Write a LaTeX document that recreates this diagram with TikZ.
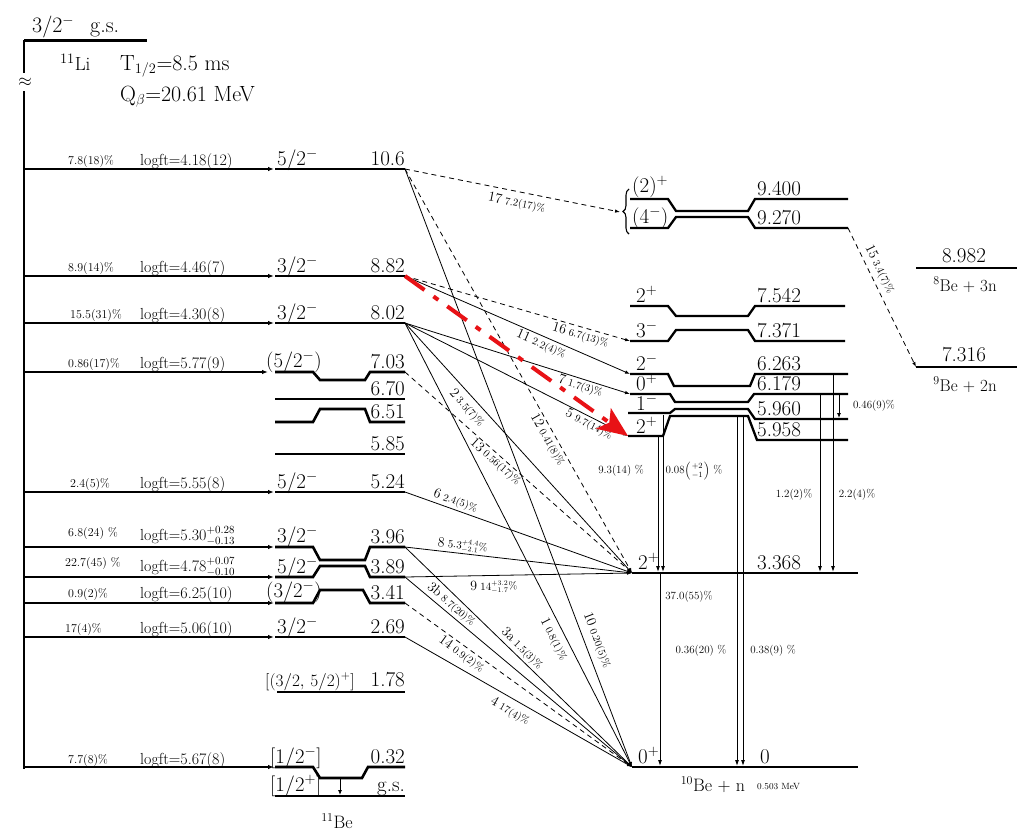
\documentclass[tikz,border=0pt]{standalone}
\usetikzlibrary{arrows.meta,decorations.pathreplacing}
\definecolor{arrred}{RGB}{232,18,22}
\newcommand\trl[2]{{\fontsize{14}{15}\selectfont #1}\ {\fontsize{10.5}{11}\selectfont #2}}
\begin{document}
\begin{tikzpicture}[x=1pt,y=-1pt,
 lev/.style={line width=2.6pt, line join=miter},
 beta/.style={line width=1.2pt, -{Latex[length=6pt,width=4.5pt]}, shorten >=1pt},
 tr/.style={line width=0.8pt, -{Latex[length=5pt,width=3.5pt]}},
 dtr/.style={tr, dash pattern=on 5pt off 4pt},
 gam/.style={line width=0.9pt, -{Latex[length=6pt,width=4pt]}},
 txt/.style={inner sep=0pt, font=\fontsize{21}{22}\selectfont},
 en/.style={txt, anchor=base east},
 sp/.style={txt, anchor=base west},
 lg/.style={inner sep=0pt, anchor=base west, font=\fontsize{16}{17}\selectfont},
 pc/.style={inner sep=0pt, anchor=base west, font=\fontsize{12}{13}\selectfont},
 tl/.style={inner sep=1pt, sloped},
 gl/.style={inner sep=0pt, font=\fontsize{11}{12}\selectfont},
 big/.style={anchor=base west, inner sep=0pt, font=\fontsize{22}{23}\selectfont},
]
\useasboundingbox (0,0) rectangle (1017,831);

% ---------- 11Li ----------
\coordinate (liL) at (24,40); \coordinate (liR) at (147,40);
\draw[lev,line width=3pt] (liL) -- (liR);
\node[big] (ligs) at (32,32) {3/2$^{-}$\hspace{16pt}g.s.};
\coordinate (vA) at (24,73); \coordinate (vB) at (24,91); \coordinate (vE) at (24,769);
\draw[line width=1.3pt] (liL) -- (vA) (vB) -- (vE);
\node[inner sep=0pt, font=\fontsize{18}{18}\selectfont] (apx) at (25,82) {$\approx$};
\node[big, font=\fontsize{19}{20}\selectfont] (li) at (60,70) {$^{11}$Li};
\node[big] (thalf) at (120,70) {T$_{1/2}$=8.5 ms};
\node[big] (qb) at (120,101) {Q$_{\beta}$=20.61 MeV};

% ---------- 11Be levels ----------
\coordinate (b106) at (275,169); \coordinate (r106) at (405,169);
\draw[lev] (b106) -- (r106);
\node[sp] (s106) at (277,165) {5/2$^{-}$}; \node[en] (e106) at (405,165) {10.6};

\coordinate (b882) at (275,276); \coordinate (r882) at (405,276);
\draw[lev] (b882) -- (r882);
\node[sp] (s882) at (277,272) {3/2$^{-}$}; \node[en] (e882) at (405,272) {8.82};

\coordinate (b802) at (275,323); \coordinate (r802) at (405,323);
\draw[lev] (b802) -- (r802);
\node[sp] (s802) at (277,319) {3/2$^{-}$}; \node[en] (e802) at (405,319) {8.02};

\coordinate (b703) at (275,372); \coordinate (r703) at (405,372);
\draw[lev] (b703) -- (313,372) -- (320,380) -- (365,380) -- (370,372) -- (r703);
\node[sp] (s703) at (266,367) {$\bigl(5/2^{-}\bigr)$}; \node[en] (e703) at (405,368) {7.03};

\coordinate (b670) at (275,399); \coordinate (r670) at (405,399);
\draw[lev] (b670) -- (r670);
\node[en] (e670) at (405,395) {6.70};

\coordinate (b651) at (275,422); \coordinate (r651) at (405,422);
\draw[lev] (b651) -- (313,422) -- (320,409) -- (365,409) -- (370,422) -- (r651);
\node[en] (e651) at (405,418) {6.51};

\coordinate (b585) at (275,454); \coordinate (r585) at (405,454);
\draw[lev] (b585) -- (r585);
\node[en] (e585) at (405,450) {5.85};

\coordinate (b524) at (275,492); \coordinate (r524) at (405,492);
\draw[lev] (b524) -- (r524);
\node[sp] (s524) at (277,488) {5/2$^{-}$}; \node[en] (e524) at (405,488) {5.24};

\coordinate (b396) at (275,547); \coordinate (r396) at (405,547);
\draw[lev] (b396) -- (313,547) -- (320,560) -- (365,560) -- (370,547) -- (r396);
\node[sp] (s396) at (277,542) {3/2$^{-}$}; \node[en] (e396) at (405,543) {3.96};

\coordinate (b389) at (275,577); \coordinate (r389) at (405,577);
\draw[lev] (b389) -- (313,577) -- (320,566) -- (365,566) -- (370,577) -- (r389);
\node[sp] (s389) at (277,573) {5/2$^{-}$}; \node[en] (e389) at (405,573) {3.89};

\coordinate (b341) at (275,603); \coordinate (r341) at (405,603);
\draw[lev] (b341) -- (313,603) -- (320,590) -- (363,590) -- (370,603) -- (r341);
\node[sp] (s341) at (266,597) {$\bigl(3/2^{-}\bigr)$}; \node[en] (e341) at (405,599) {3.41};

\coordinate (b269) at (275,637); \coordinate (r269) at (405,637);
\draw[lev] (b269) -- (r269);
\node[sp] (s269) at (277,633) {3/2$^{-}$}; \node[en] (e269) at (405,633) {2.69};

\coordinate (b178) at (277,692); \coordinate (r178) at (405,692);
\draw[lev] (b178) -- (r178);
\node[sp, font=\fontsize{18}{19}\selectfont] (s178) at (265,686) {$\bigl[(3/2,\,5/2)^{+}\bigr]$}; \node[en] (e178) at (405,686) {1.78};

\coordinate (b032) at (275,767); \coordinate (r032) at (405,767);
\draw[lev] (b032) -- (313,767) -- (320,778) -- (362,778) -- (368,767) -- (r032);
\node[sp] (s032) at (270,763) {$\bigl[1/2^{-}\bigr]$}; \node[en] (e032) at (405,763) {0.32};

\coordinate (bgs) at (275,796); \coordinate (rgs) at (405,796);
\draw[lev] (bgs) -- (rgs);
\node[sp] (sgs) at (270,791) {$\bigl[1/2^{+}\bigr]$}; \node[en] (egs) at (405,791) {g.s.};
\coordinate (dd1) at (340,779); \coordinate (dd2) at (340,795);
\draw[gam,-{Latex[length=5pt,width=4pt]}] (dd1) -- (dd2);
\node[anchor=base, inner sep=0pt, font=\fontsize{18}{19}\selectfont] (be11) at (337,828) {$^{11}$Be};

% ---------- beta feeding ----------
\coordinate (s1) at (24,169); \draw[beta] (s1) -- (b106);
\node[pc] (p1) at (68,164) {7.8(18)\%}; \node[lg] (g1) at (140,165) {logft=4.18(12)};
\coordinate (s2) at (24,276); \draw[beta] (s2) -- (b882);
\node[pc] (p2) at (68,271) {8.9(14)\%}; \node[lg] (g2) at (140,272) {logft=4.46(7)};
\coordinate (s3) at (24,323); \draw[beta] (s3) -- (b802);
\node[pc] (p3) at (70,318) {15.5(31)\%}; \node[lg] (g3) at (140,319) {logft=4.30(8)};
\coordinate (s4) at (24,372); \coordinate (t4) at (269,372); \draw[beta] (s4) -- (t4);
\node[pc] (p4) at (68,367) {0.86(17)\%}; \node[lg] (g4) at (140,368) {logft=5.77(9)};
\coordinate (s5) at (24,492); \draw[beta] (s5) -- (b524);
\node[pc] (p5) at (70,487) {2.4(5)\%}; \node[lg] (g5) at (140,488) {logft=5.55(8)};
\coordinate (s6) at (24,547); \draw[beta] (s6) -- (b396);
\node[pc] (p6) at (68,536) {6.8(24) \%}; \node[lg] (g6) at (140,540) {logft=5.30$^{+0.28}_{-0.13}$};
\coordinate (s7) at (24,577); \draw[beta] (s7) -- (b389);
\node[pc] (p7) at (65,566) {22.7(45) \%}; \node[lg] (g7) at (140,571) {logft=4.78$^{+0.07}_{-0.10}$};
\coordinate (s8) at (24,603); \draw[beta] (s8) -- (b341);
\node[pc] (p8) at (68,597) {0.9(2)\%}; \node[lg] (g8) at (140,598) {logft=6.25(10)};
\coordinate (s9) at (24,637); \draw[beta] (s9) -- (b269);
\node[pc] (p9) at (65,632) {17(4)\%}; \node[lg] (g9) at (140,633) {logft=5.06(10)};
\coordinate (s10) at (24,767); \draw[beta] (s10) -- (b032);
\node[pc] (p10) at (68,763) {7.7(8)\%}; \node[lg] (g10) at (140,764) {logft=5.67(8)};

% ---------- 10Be levels ----------
\coordinate (t9400) at (630,199); \coordinate (q9400) at (848,199);
\draw[lev,line width=2.3pt] (t9400) -- (668,199) -- (676,211) -- (748,211) -- (755,199) -- (q9400);
\node[sp] (j9400) at (632,192) {(2)$^{+}$}; \node[sp] (n9400) at (757,195) {9.400};
\coordinate (t9270) at (630,228); \coordinate (q9270) at (848,228);
\draw[lev,line width=2.3pt] (t9270) -- (668,228) -- (676,217) -- (748,217) -- (755,228) -- (q9270);
\node[sp] (j9270) at (632,223) {(4$^{-}$)}; \node[sp] (n9270) at (757,224) {9.270};
\coordinate (brA) at (629,234); \coordinate (brB) at (629,189);
\draw[decorate, decoration={brace, amplitude=6pt}, line width=1.1pt] (brA) -- (brB);
\coordinate (brc) at (620,212);

\coordinate (t7542) at (630,306); \coordinate (q7542) at (845,306);
\draw[lev,line width=2.3pt] (t7542) -- (668,306) -- (676,316) -- (748,316) -- (755,306) -- (q7542);
\node[sp] (j7542) at (636,302) {2$^{+}$}; \node[sp] (n7542) at (757,302) {7.542};
\coordinate (t7371) at (630,341); \coordinate (q7371) at (845,341);
\draw[lev,line width=2.3pt] (t7371) -- (668,341) -- (676,330) -- (748,330) -- (755,341) -- (q7371);
\node[sp] (j7371) at (636,337) {3$^{-}$}; \node[sp] (n7371) at (757,337) {7.371};

\coordinate (t6263) at (630,374); \coordinate (q6263) at (848,374);
\draw[lev,line width=2.3pt] (t6263) -- (668,374) -- (674,386) -- (750,386) -- (755,374) -- (q6263);
\node[sp] (j6263) at (636,370) {2$^{-}$}; \node[sp] (n6263) at (757,370) {6.263};
\coordinate (t6179) at (630,394); \coordinate (q6179) at (848,394);
\draw[lev,line width=2.3pt] (t6179) -- (670,394) -- (675,402) -- (748,402) -- (754,394) -- (q6179);
\node[sp] (j6179) at (636,390) {0$^{+}$}; \node[sp] (n6179) at (757,390) {6.179};
\coordinate (t5960) at (628,413); \coordinate (q5960) at (848,419);
\draw[lev,line width=2.3pt] (t5960) -- (670,413) -- (675,409) -- (748,409) -- (755,419) -- (q5960);
\node[sp] (j5960) at (636,410) {1$^{-}$}; \node[sp] (n5960) at (757,415) {5.960};
\coordinate (t5958) at (628,436); \coordinate (q5958) at (848,440);
\draw[lev,line width=2.3pt] (t5958) -- (663,436) -- (670,416) -- (748,416) -- (757,440) -- (q5958);
\node[sp] (j5958) at (636,433) {2$^{+}$}; \node[sp] (n5958) at (757,436) {5.958};

\coordinate (t3368) at (632,573); \coordinate (q3368) at (858,573);
\draw[lev] (t3368) -- (q3368);
\node[sp] (j3368) at (638,569) {2$^{+}$}; \node[sp] (n3368) at (757,569) {3.368};
\coordinate (t0) at (632,767); \coordinate (q0) at (858,767);
\draw[lev] (t0) -- (q0);
\node[sp] (j0) at (638,763) {0$^{+}$}; \node[sp] (n0) at (760,763) {0};
\node[anchor=base, inner sep=0pt, font=\fontsize{18}{19}\selectfont] (be10) at (713,791) {$^{10}$Be + n};
\node[anchor=base west, inner sep=0pt, font=\fontsize{9}{10}\selectfont] (sn) at (757,789) {0.503 MeV};

% ---------- right levels ----------
\coordinate (t8982) at (916,268); \coordinate (q8982) at (1017,268);
\draw[lev] (t8982) -- (q8982);
\node[txt, anchor=base] (n8982) at (964,262) {8.982};
\node[anchor=base, inner sep=0pt, font=\fontsize{17}{18}\selectfont] (c8982) at (965,291) {$^{8}$Be + 3n};
\coordinate (t7316) at (916,367); \coordinate (q7316) at (1017,367);
\draw[lev] (t7316) -- (q7316);
\node[txt, anchor=base] (n7316) at (964,361) {7.316};
\node[anchor=base, inner sep=0pt, font=\fontsize{17}{18}\selectfont] (c7316) at (965,391) {$^{9}$Be + 2n};

% ---------- neutron transitions ----------
\draw[dtr] (r106) -- node[tl, pos=.53, below=4pt] (l17) {\trl{17}{7.2(17)\%}} (brc);
\draw[tr] (r106) -- node[tl, pos=.795, above=5pt] (l10) {\trl{10}{0.20(5)\%}} (t0);
\draw[dtr] (r106) -- node[tl, pos=.66, below=1pt] (l12) {\trl{12}{0.41(8)\%}} (t3368);
\draw[dtr] (r882) -- node[tl, pos=.79, below=1pt] (l16) {\trl{16}{6.7(13)\%}} (t7371);
\draw[tr] (r882) -- node[tl, pos=.62, below=1pt] (l11) {\trl{11}{2.2(4)\%}} (t6263);
\draw[tr] (r802) -- node[tl, pos=.79, below=0pt] (l7) {\trl{7}{1.7(3)\%}} (t6179);
\draw[tr] (r802) -- node[tl, pos=.84, below=0pt] (l5) {\trl{5}{9.7(14)\%}} (t5958);
\draw[tr] (r802) -- node[tl, pos=.31, below=4pt] (l2) {\trl{2}{3.5(7)\%}} (t3368);
\draw[tr] (r802) -- node[tl, pos=.70, below=4pt] (l1) {\trl{1}{0.8(1)\%}} (t0);
\draw[dtr] (r703) -- node[tl, pos=.42, below=0pt] (l13) {\trl{13}{0.56(17)\%}} (t3368);
\draw[tr] (r524) -- node[tl, pos=.21, above=1pt] (l6) {\trl{6}{2.4(5)\%}} (t3368);
\draw[tr] (r396) -- node[tl, pos=.25, above=0pt] (l8) {\trl{8}{$5.3^{+4.4}_{-2.1}$\%}} (t3368);
\draw[tr] (r389) -- node[tl, pos=.39, below=4pt] (l9) {\trl{9}{$14^{+3.2}_{-1.7}$\%}} (t3368);
\draw[tr] (r396) -- node[tl, pos=.49, above=1pt] (l3a) {\trl{3a}{1.5(3)\%}} (t0);
\draw[tr] (r389) -- node[tl, pos=.18, above=1pt] (l3b) {\trl{3b}{8.7(20)\%}} (t0);
\draw[dtr] (r341) -- node[tl, pos=.27, below=1pt] (l14) {\trl{14}{0.9(2)\%}} (t0);
\draw[tr] (r269) -- node[tl, pos=.49, below=5pt] (l4) {\trl{4}{17(4)\%}} (t0);
\draw[dtr] (q9270) -- node[tl, pos=.33, above=3pt] (l15) {\trl{15}{3.4(7)\%}} (t7316);

% red dash-dot arrow
\draw[arrred, line width=4pt, dash pattern=on 24pt off 11pt on 6pt off 11pt,
      -{Stealth[length=30pt,width=25pt,inset=7pt]}] (r882) -- (t5958);

% ---------- gamma transitions ----------
\coordinate (gA1) at (658,437); \coordinate (gA2) at (658,572);
\draw[gam] (gA1) -- (gA2);
\coordinate (gB1) at (663,415); \coordinate (gB2) at (663,572);
\draw[gam] (gB1) -- (gB2);
\coordinate (gC1) at (660,574); \coordinate (gC2) at (660,766);
\draw[gam] (gC1) -- (gC2);
\coordinate (gD1) at (737,416); \coordinate (gD2) at (737,766);
\draw[gam] (gD1) -- (gD2);
\coordinate (gE1) at (743,416); \coordinate (gE2) at (743,766);
\draw[gam] (gE1) -- (gE2);
\coordinate (gF1) at (820,394); \coordinate (gF2) at (820,572);
\draw[gam] (gF1) -- (gF2);
\coordinate (gG1) at (833,374); \coordinate (gG2) at (833,572);
\draw[gam] (gG1) -- (gG2);
\coordinate (gH1) at (839,395); \coordinate (gH2) at (839,418);
\draw[gam,-{Latex[length=5pt,width=4pt]}] (gH1) -- (gH2);

\node[gl] (gla) at (621,471) {9.3(14) \%};
\node[gl] (glb) at (694,471) {0.08$\left({+2\atop -1}\right)$ \%};
\node[gl] (glc) at (689,597) {37.0(55)\%};
\node[gl] (gld) at (701,651) {0.36(20) \%};
\node[gl] (gle) at (773,651) {0.38(9) \%};
\node[gl] (glf) at (794,495) {1.2(2)\%};
\node[gl] (glg) at (857,495) {2.2(4)\%};
\node[gl] (glh) at (874,406) {0.46(9)\%};
\end{tikzpicture}
\end{document}
